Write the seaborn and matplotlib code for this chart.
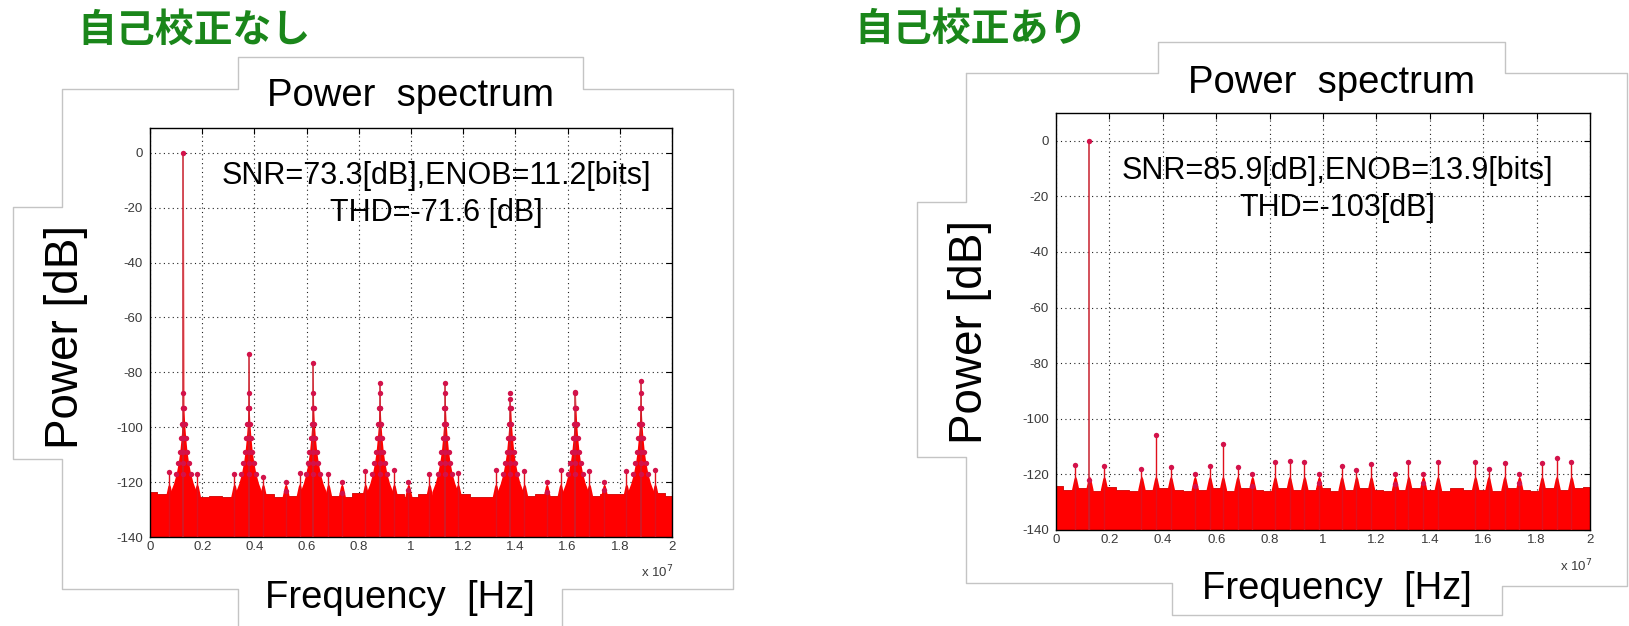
#!/usr/bin/env python3
"""Power spectrum of the ADC output, without and with self-calibration."""

import matplotlib

matplotlib.use("Agg")

import matplotlib.pyplot as plt
import pandas as pd
import seaborn as sns
from matplotlib.lines import Line2D


# ---------------------------------------------------------------- data
PANEL_TITLES = ["自己校正なし", "自己校正あり"]
CHART_TITLE = "Power  spectrum"
X_LABEL = "Frequency  [Hz]"
Y_LABEL = "Power [dB]"
METRIC_LINES = [
    ["SNR=73.3[dB],ENOB=11.2[bits]", "THD=-71.6 [dB]"],
    ["SNR=85.9[dB],ENOB=13.9[bits]", "THD=-103[dB]"],
]

X_TICKS_MHZ = [0, 2, 4, 6, 8, 10, 12, 14, 16, 18, 20]
X_TICK_LABELS = ["0", "0.2", "0.4", "0.6", "0.8", "1", "1.2", "1.4", "1.6", "1.8", "2"]
Y_TICKS = [-140, -120, -100, -80, -60, -40, -20, 0]

# noise floor top, sampled every 0.5 MHz
FLOOR_MHZ = [0, 0.5, 1, 1.5, 2, 2.5, 3, 3.5, 4, 4.5, 5, 5.5, 6, 6.5, 7, 7.5, 8,
             8.5, 9, 9.5, 10, 10.5, 11, 11.5, 12, 12.5, 13, 13.5, 14, 14.5, 15,
             15.5, 16, 16.5, 17, 17.5, 18, 18.5, 19, 19.5, 20]
FLOOR_RAW_DB = [-123.5, -124.5, -124, -124.5, -125.5, -125, -125.5, -124.5, -125,
                -124.5, -125.5, -125, -125, -124.5, -125, -125.5, -124, -125, -125,
                -124.5, -125.5, -124.5, -125, -125, -124.5, -125.5, -125.5, -124.5,
                -125, -125, -124.5, -125, -124.5, -125.5, -125, -124.5, -124.5, -125,
                -124.5, -124, -125]
FLOOR_CAL_DB = [-124, -125.5, -125, -126, -124.5, -125.5, -126, -125.5, -125,
                -125.5, -126, -125.5, -125, -126, -125, -125.5, -126, -125,
                -125.5, -125.5, -125, -126, -125.5, -125, -125.5, -126, -125.5, -125,
                -125.5, -126, -125, -125.5, -125.5, -126, -125, -125.5, -126,
                -125, -125.5, -125, -124.5]

# without calibration: fundamental + odd harmonics with leakage skirts
RAW_HARM_MHZ = [1.28, 3.78, 6.25, 8.8, 11.3, 13.8, 16.3, 18.8]
RAW_HARM_DB = [0.0, -73.5, -76.5, -84.0, -84.0, -89.8, -87.2, -83.3]
SKIRT_OFF_MHZ = [0.02, 0.05, 0.09, 0.14, 0.2, 0.28, 0.38, 0.5]
SKIRT_DB = [-93, -99, -104, -109, -113, -117, -120.5, -123.5]
RAW_SPUR_MHZ = [0.73, 1.8, 3.23, 4.33, 5.2, 5.73, 6.83, 7.35, 8.25, 9.35, 9.9,
                10.7, 11.8, 13.25, 14.34, 15.2, 15.73, 16.83, 17.4, 18.25, 19.35]
RAW_SPUR_DB = [-116.4, -117, -117, -118, -123.4, -116.8, -117, -124, -116, -115.5,
               -123, -117, -116.7, -115.5, -116, -123.5, -115.5, -116, -123, -116,
               -115.5]

# with calibration: clean fundamental, only small spurs
CAL_HARM_MHZ = [1.25]
CAL_HARM_DB = [0.0]
CAL_SPUR_MHZ = [0.72, 1.25, 1.8, 3.2, 3.74, 4.3, 5.2, 5.76, 6.25, 6.8, 7.35, 8.2,
                8.75, 9.3, 9.85, 10.7, 11.25, 11.8, 12.7, 13.2, 13.75, 14.3, 15.7,
                16.2, 16.8, 17.35, 18.2, 18.75, 19.3]
CAL_SPUR_DB = [-116.7, -122, -117, -118, -105.7, -117.5, -124, -117, -109, -117.5,
               -124, -115.5, -115, -115.5, -123, -117, -118.5, -116.4, -123.4,
               -115.5, -123, -115.5, -115.5, -118, -116, -123, -116, -114, -115.5]
SPUR_SIDE_DB = [-120, -123]

# ---------------------------------------------------------------- layout (pixels)
W, H = 1629, 626
AX_BOX = [(150, 128, 672, 537), (1056, 113, 1590, 530)]
Y_TOP = [9, 10]
BORDERS = [
    [(238, 626), (238, 589), (62, 589), (62, 459), (13, 459), (13, 207), (62, 207),
     (62, 89), (238, 89), (238, 57), (583, 57), (583, 89), (733, 89), (733, 589),
     (562, 589), (562, 626)],
    [(966, 73), (1158, 73), (1158, 42), (1505, 42), (1505, 73), (1627, 73),
     (1627, 586), (1502, 586), (1502, 615), (1172, 615), (1172, 583), (966, 583),
     (966, 457), (917, 457), (917, 202), (966, 202), (966, 73)],
]
GREEN_POS = [(194, 30), (971, 29)]
TITLE_POS = [(410, 106), (1331, 93)]
XLABEL_POS = [(400, 608), (1337, 599)]
YLABEL_POS = [(66, 337), (970, 332)]
METRIC_POS = [[(436, 184), (436, 221)], [(1337, 179), (1337, 216)]]
EXP_POS = [(673, 572), (1592, 566)]

FILL_RED = "#ff0000"
STEM_RED = "#e0101c"
MARK_RED = "#d3124a"
GREEN = "#1a861a"


def fx(x):
    return x / W


def fy(y):
    return 1 - y / H


def draw_spectrum(ax, floor_db, harm_mhz, harm_db, spur_mhz, spur_db, with_skirt):
    hz = 1e6
    ax.fill_between([f * hz for f in FLOOR_MHZ], -140, floor_db, step="mid",
                    color=FILL_RED, linewidth=0.6, edgecolor="#d00000", zorder=2)

    marks = []
    if with_skirt:
        for f0, top in zip(harm_mhz, harm_db):
            xs = [f0 - o for o in reversed(SKIRT_OFF_MHZ)] + [f0] + [f0 + o for o in SKIRT_OFF_MHZ]
            ys = list(reversed(SKIRT_DB)) + [max(SKIRT_DB[0], top)] + SKIRT_DB
            ax.fill_between([x * hz for x in xs], -140, ys, color=FILL_RED,
                            linewidth=0, zorder=2)
            for o, lv in zip(SKIRT_OFF_MHZ[:6], SKIRT_DB[:6]):
                marks += [(f0 - o, lv), (f0 + o, lv), (f0, lv)]
            marks.append((f0, -87.5))

    for f, lv in zip(spur_mhz, spur_db):
        ax.fill_between([(f - 0.14) * hz, (f - 0.05) * hz, f * hz, (f + 0.05) * hz, (f + 0.14) * hz],
                        -140, [-125.5, -121.5, -120.5, -121.5, -125.5],
                        color=FILL_RED, linewidth=0, zorder=2)
        marks.append((f, lv))
        for side in SPUR_SIDE_DB:
            if lv < side - 2:
                marks.append((f, side))

    ax.vlines([f * hz for f in spur_mhz], -140, spur_db, color=STEM_RED,
              linewidth=1.0, zorder=3)
    ax.vlines([f * hz for f in harm_mhz], -140, harm_db, color="#c8202e",
              linewidth=1.1, zorder=3)
    marks += list(zip(harm_mhz, harm_db))

    df = pd.DataFrame(marks, columns=["mhz", "db"])
    df["hz"] = df["mhz"] * hz
    sns.scatterplot(data=df, x="hz", y="db", ax=ax, color=MARK_RED, s=15,
                    linewidth=0, legend=False, zorder=4)


def style_axes(ax, y_top):
    ax.set_xlim(0, 2e7)
    ax.set_ylim(-140, y_top)
    ax.set_xticks([m * 1e6 for m in X_TICKS_MHZ])
    ax.set_xticklabels(X_TICK_LABELS)
    ax.set_yticks(Y_TICKS)
    ax.set_yticklabels([str(v) for v in Y_TICKS])
    ax.set_xlabel("")
    ax.set_ylabel("")
    ax.set_facecolor("white")
    ax.grid(True, color="#222222", linestyle=(0, (1, 3)), linewidth=0.8)
    ax.set_axisbelow(True)
    for spine in ax.spines.values():
        spine.set_visible(True)
        spine.set_color("black")
        spine.set_linewidth(1.0)
    ax.tick_params(direction="in", length=4, width=0.8, top=True, right=True,
                   labelsize=9.5, labelcolor="#3a3a3a", colors="black")
    ax.tick_params(axis="y", pad=5)
    ax.tick_params(axis="x", pad=3)


def main():
    sns.set_theme(style="white")
    plt.rcParams["font.family"] = ["Liberation Sans", "Noto Sans CJK JP", "DejaVu Sans"]

    fig = plt.figure(figsize=(W / 100, H / 100), dpi=100)
    fig.patch.set_facecolor("white")

    for pts in BORDERS:
        xs, ys = zip(*pts)
        fig.add_artist(Line2D([fx(x) for x in xs], [fy(y) for y in ys],
                              color="#c4c4c4", linewidth=1.0))

    series = [
        (FLOOR_RAW_DB, RAW_HARM_MHZ, RAW_HARM_DB, RAW_SPUR_MHZ, RAW_SPUR_DB, True),
        (FLOOR_CAL_DB, CAL_HARM_MHZ, CAL_HARM_DB, CAL_SPUR_MHZ, CAL_SPUR_DB, False),
    ]

    for i, args in enumerate(series):
        x0, y0, x1, y1 = AX_BOX[i]
        ax = fig.add_axes([fx(x0), fy(y1), (x1 - x0) / W, (y1 - y0) / H])
        draw_spectrum(ax, *args)
        style_axes(ax, Y_TOP[i])

        gx, gy = GREEN_POS[i]
        fig.text(fx(gx), fy(gy), PANEL_TITLES[i], ha="center", va="center",
                 fontsize=28, fontweight="bold", color=GREEN,
                 family=["Noto Sans CJK JP", "DejaVu Sans"])
        tx, ty = TITLE_POS[i]
        fig.text(fx(tx), fy(ty), CHART_TITLE, ha="center", va="baseline",
                 fontsize=27.5, color="black")
        lx, ly = XLABEL_POS[i]
        fig.text(fx(lx), fy(ly), X_LABEL, ha="center", va="baseline",
                 fontsize=27.5, color="black")
        px, py = YLABEL_POS[i]
        fig.text(fx(px), fy(py), Y_LABEL, ha="center", va="center", rotation=90,
                 fontsize=33, color="black")
        for line, (mx, my) in zip(METRIC_LINES[i], METRIC_POS[i]):
            fig.text(fx(mx), fy(my), line, ha="center", va="baseline",
                     fontsize=22, color="black")
        ex, ey = EXP_POS[i]
        fig.text(fx(ex), fy(ey), r"x 10$^7$", ha="right", va="center",
                 fontsize=9.5, color="#3a3a3a")

    fig.savefig("out.png", dpi=100, facecolor="white")
    plt.close(fig)


if __name__ == "__main__":
    main()
